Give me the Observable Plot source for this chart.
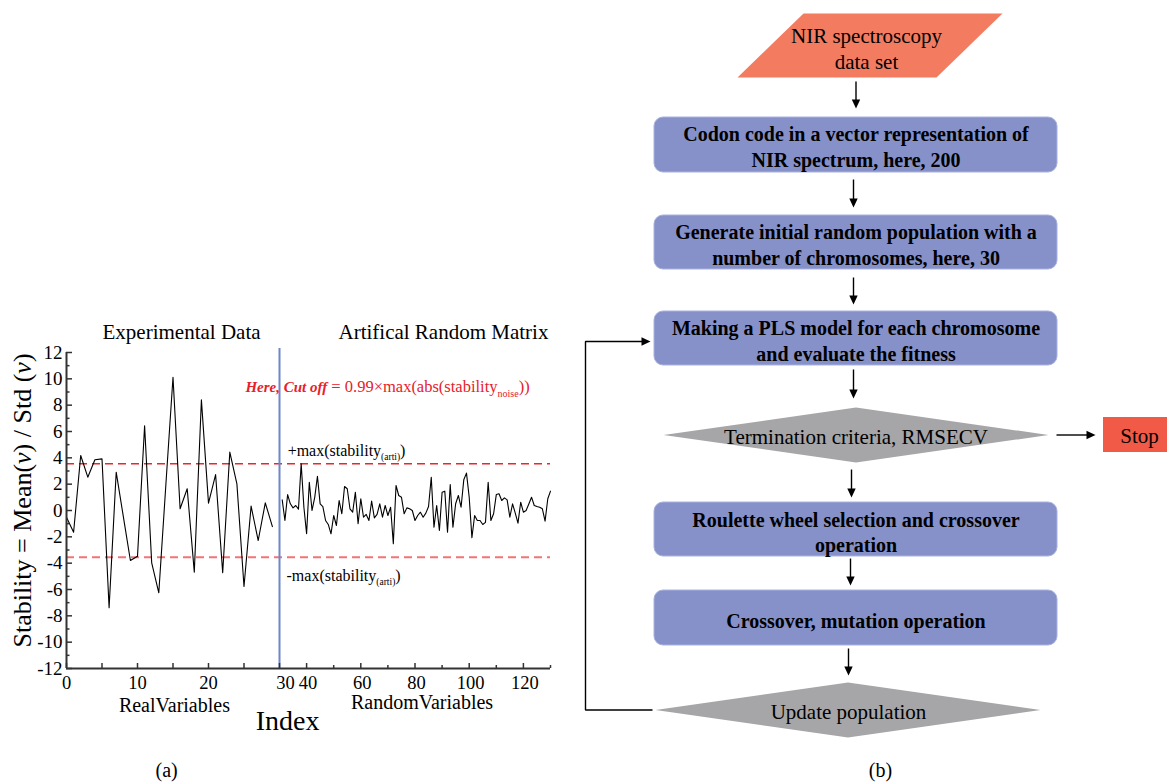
<!DOCTYPE html>
<html><head><meta charset="utf-8">
<script src="https://cdn.jsdelivr.net/npm/d3@7"></script>
<script src="https://cdn.jsdelivr.net/npm/@observablehq/plot@0.6"></script>
<style>
html,body{margin:0;padding:0;background:#fff;}
#wrap{position:relative;width:1167px;height:782px;overflow:hidden;background:#fff;}
#left{position:absolute;left:0;top:0;}
#right{position:absolute;left:580px;top:0;}
</style></head><body>
<div id="wrap"><div id="left"></div><div id="right"></div></div>
<script>
// ---------------- DATA ----------------
// Stability of the real (experimental) variables, index 0..29
const realValues = [
  -0.51,-1.65,4.18,2.53,3.85,3.92,-7.39,2.91,-0.45,-3.8,
  -3.47,6.43,-3.97,-6.25,2.0,10.12,0.13,1.65,-4.68,8.4,
  0.56,2.73,-4.73,4.43,2.02,-5.77,0.33,-2.28,0.58,-1.22
];
const realStart = 0;
// Stability of the artificial random variables, index 31..130
const randomValues = [
  0.81,-0.76,1.21,0.51,0.2,0.38,0.1,3.54,0.25,-1.77,
  2.15,0.0,1.0,2.6,0.5,0.3,-0.76,-1.06,-1.77,-0.38,
  -1.14,0.76,-0.25,1.82,1.65,0.13,-0.13,1.39,-1.01,0.89,
  -0.51,-0.3,-0.76,0.71,-0.56,-0.3,0.51,-0.51,0.38,-0.38,
  0.25,-2.53,1.9,1.14,1.01,-0.25,0.2,0.13,0.0,-0.76,
  -0.38,-0.13,-0.51,-0.2,0.3,2.53,-1.27,0.38,-1.52,1.39,
  1.47,-1.65,1.97,-1.27,0.51,1.14,0.25,2.33,2.84,1.01,
  -2.07,-0.38,-0.76,-0.76,-1.06,-0.9,2.15,-0.76,-0.25,1.21,
  1.27,0.76,0.96,0.81,-0.51,0.51,-0.2,-0.96,0.63,-0.13,
  0.0,0.5,1.01,0.38,0.3,0.25,0.13,-0.81,0.89,1.47
];
const randomStart = 31;
const cutOff = 3.55;                 // ±max(stability(arti))
const xBreak = 30, xEnd = 130;       // broken index axis: 0–30 real, 30–130 random
const xLabelsReal = [0, 10, 20];
const xLabelBreak = [30];
const xLabelsRandom = [40, 60, 80, 100, 120];
const xTicksReal = [0, 5, 10, 15, 20, 25, 30];
const xTicksRandomMajor = [40, 60, 80, 100, 120];
const xTicksRandomMinor = [50, 70, 90, 110, 130];
const yMajor = [-12,-10,-8,-6,-4,-2,0,2,4,6,8,10,12];
const yMinor = [-11,-9,-7,-5,-3,-1,1,3,5,7,9,11];
const panelTitles = ["Experimental Data", "Artifical Random Matrix"];
const groupLabels = ["RealVariables", "RandomVariables"];
const yTitle = "Stability = Mean(ν) / Std (ν)";
const xTitle = "Index";
const formula = "Here, Cut off = 0.99×max(abs(stability noise))";
const upperLabel = "+max(stability (arti))";
const lowerLabel = "-max(stability (arti))";

// Flowchart
const flowLabels = [
  "NIR spectroscopy\ndata set",
  "Codon code in a vector representation of\nNIR spectrum, here, 200",
  "Generate initial random population with a\nnumber of chromosomes, here, 30",
  "Making a PLS model for each chromosome\nand evaluate the fitness",
  "Termination criteria, RMSECV",
  "Roulette wheel selection and crossover\noperation",
  "Crossover, mutation operation",
  "Update population"
];
const flowKinds = ["data","process","process","process","decision","process","process","decision"];
const stopLabel = "Stop";

// ---------------- LEFT CHART ----------------
const FONT = "'Liberation Serif','Times New Roman',Times,serif";
const real = realValues.map((v, k) => ({i: realStart + k, v}));
const rand = randomValues.map((v, k) => ({i: randomStart + k, v}));
const AX = "#333";
// compress the random segment of the index axis (2.71 px/unit vs 7.1 px/unit)
const squeeze = 2.71 / 7.1;
const brk = d => d <= xBreak ? d : xBreak + (d - xBreak) * squeeze;
const unbrk = d => d <= xBreak ? d : xBreak + (d - xBreak) / squeeze;
const fmtX = d => String(Math.round(unbrk(d)));

const leftSvg = Plot.plot({
  width: 582, height: 782,
  marginLeft: 66, marginRight: 32, marginTop: 352, marginBottom: 114,
  style: {fontFamily: FONT, fontSize: "19px", background: "white", overflow: "visible", color: "black"},
  x: {transform: brk, domain: [0, brk(xEnd)]},
  y: {domain: [-12, 12]},
  marks: [
    Plot.ruleY([cutOff], {stroke: "#e8262c", strokeWidth: 1.3, strokeDasharray: "8,5"}),
    Plot.ruleY([-cutOff], {stroke: "#f27474", strokeWidth: 2, strokeDasharray: "8,5"}),
    Plot.line(real, {x: "i", y: "v", stroke: "black", strokeWidth: 1.1}),
    Plot.line(rand, {x: "i", y: "v", stroke: "black", strokeWidth: 1.1}),
    Plot.ruleX([xBreak], {y1: -12, y2: 12.3, stroke: "#6f86c8", strokeWidth: 2}),
    Plot.ruleX([0], {y1: -12, y2: 12, stroke: AX, strokeWidth: 2}),
    Plot.ruleY([-12], {stroke: AX, strokeWidth: 2}),
    // inward ticks
    Plot.axisY({ticks: yMajor, tickSize: 6, dx: 6, fill: "none", stroke: AX, strokeWidth: 1.5, label: null}),
    Plot.axisY({ticks: yMinor, tickSize: 3.5, dx: 3.5, fill: "none", stroke: AX, strokeWidth: 1.5, label: null}),
    Plot.axisX({ticks: xTicksReal.map(brk), tickSize: 5, dy: -5, fill: "none", stroke: AX, strokeWidth: 1.5, label: null}),
    Plot.axisX({ticks: xTicksRandomMajor.map(brk), tickSize: 5, dy: -5, fill: "none", stroke: AX, strokeWidth: 1.5, label: null}),
    Plot.axisX({ticks: xTicksRandomMinor.map(brk), tickSize: 3, dy: -3, fill: "none", stroke: AX, strokeWidth: 1.5, label: null}),
    // tick labels
    Plot.axisY({ticks: yMajor, tickSize: 0, tickPadding: 4, tickFormat: d => String(d), label: null}),
    Plot.axisX({ticks: xLabelsReal.map(brk), tickSize: 0, tickPadding: 7, fontSize: 18.5, tickFormat: fmtX, label: null}),
    Plot.axisX({ticks: xLabelBreak.map(brk), tickSize: 0, tickPadding: 7, dx: 6, fontSize: 18.5, tickFormat: fmtX, label: null}),
    Plot.axisX({ticks: xLabelsRandom.map(brk), tickSize: 0, tickPadding: 7, dx: 1.5, fontSize: 18.5, tickFormat: fmtX, label: null}),
    // titles and annotations
    Plot.text([panelTitles[0]], {x: 16.2, y: 13.5, fontSize: 21}),
    Plot.text([panelTitles[1]], {x: 90.5, y: 13.5, fontSize: 21}),
    Plot.text([groupLabels[0]], {x: 15.2, y: -14.8, fontSize: 20}),
    Plot.text([groupLabels[1]], {x: 82.6, y: -14.6, fontSize: 20}),
    Plot.text([xTitle], {x: 33, y: -16.0, fontSize: 28}),
    Plot.text([yTitle], {x: -6.2, y: 0.76, rotate: -90, fontSize: 26}),
    Plot.text([formula], {x: 25.2, y: 9.42, textAnchor: "start", fill: "#e8202a", fontSize: 16.5}),
    Plot.text([upperLabel], {x: 33, y: 4.56, textAnchor: "start", fontSize: 16}),
    Plot.text([lowerLabel], {x: 32.6, y: -4.94, textAnchor: "start", fontSize: 16}),
    Plot.text(["(a)"], {x: 14.1, y: -19.74, fontSize: 20})
  ]
});

function enrich(svg, key, parts) {
  svg.querySelectorAll("text").forEach(t => {
    if (t.textContent !== key) return;
    while (t.firstChild) t.removeChild(t.firstChild);
    for (const p of parts) {
      const s = document.createElementNS("http://www.w3.org/2000/svg", "tspan");
      s.textContent = p.t;
      for (const [k, v] of Object.entries(p.a || {})) s.setAttribute(k, v);
      t.appendChild(s);
    }
  });
}
enrich(leftSvg, yTitle, [
  {t: "Stability = Mean("}, {t: "ν", a: {"font-style": "italic"}},
  {t: ") / Std ("}, {t: "ν", a: {"font-style": "italic"}}, {t: ")"}
]);
enrich(leftSvg, formula, [
  {t: "Here, Cut off", a: {"font-weight": "bold", "font-style": "italic", "font-size": "15px"}},
  {t: " = 0.99×max(abs(stability"},
  {t: "noise", a: {"font-size": "10px", dy: "5"}},
  {t: "))", a: {dy: "-5"}}
]);
for (const [key, sign] of [[upperLabel, "+"], [lowerLabel, "-"]]) {
  enrich(leftSvg, key, [
    {t: sign + "max(stability"},
    {t: "(arti)", a: {"font-size": "9.5px", dy: "4"}},
    {t: ")", a: {dy: "-4"}}
  ]);
}
document.getElementById("left").appendChild(leftSvg);

// ---------------- FLOWCHART ----------------
// layout (pixel geometry of each node)
const geom = [
  {x1: 737, x2: 1002, y1: 13, y2: 77, tx: 866, ty: 47, skew: 66},
  {x1: 654, x2: 1057, y1: 117, y2: 172, tx: 855.5, ty: 145.5},
  {x1: 654, x2: 1057, y1: 215, y2: 269, tx: 855.5, ty: 243.5},
  {x1: 654, x2: 1057, y1: 311, y2: 365, tx: 855.5, ty: 339.5},
  {x1: 663, x2: 1048, y1: 407, y2: 462, tx: 855.5, ty: 435.5},
  {x1: 654, x2: 1057, y1: 502, y2: 556, tx: 855.5, ty: 531},
  {x1: 654, x2: 1057, y1: 590, y2: 645, tx: 855.5, ty: 619.5},
  {x1: 655, x2: 1040, y1: 682, y2: 737, tx: 848, ty: 710.5}
];
const stopGeom = {x1: 1103, x2: 1180, y1: 417, y2: 452, tx: 1139, ty: 436};
const nodes = flowLabels.map((label, k) => ({label, kind: flowKinds[k], ...geom[k]}));

const boxes = nodes.filter(d => d.kind === "process");
const polys = [];
nodes.forEach((d, k) => {
  if (d.kind === "decision") {
    const cx = (d.x1 + d.x2) / 2, cy = (d.y1 + d.y2) / 2;
    [[d.x1, cy], [cx, d.y1], [d.x2, cy], [cx, d.y2]].forEach(([x, y]) => polys.push({id: k, kind: "decision", x, y}));
  } else if (d.kind === "data") {
    [[d.x1 + d.skew, d.y1], [d.x2, d.y1], [d.x2 - d.skew, d.y2], [d.x1, d.y2]].forEach(([x, y]) => polys.push({id: k, kind: "data", x, y}));
  }
});

// connectors: [points...], arrow tip at last point
const connectors = [
  [[855.5, 81], [855.5, 108]],
  [[853, 179], [853, 207]],
  [[853, 277], [853, 304]],
  [[853, 369], [853, 398]],
  [[851, 469], [851, 497]],
  [[850, 558], [850, 585]],
  [[848, 648], [848, 675]],
  [[1056, 434.5], [1095, 434.5]],
  [[652, 709.5], [585, 709.5], [585, 341], [650, 341]]
];
const shafts = [], heads = [];
const HL = 9, HW = 4.2;
connectors.forEach((pts, id) => {
  const n = pts.length;
  const [tx, ty] = pts[n - 1], [px, py] = pts[n - 2];
  const L = Math.hypot(tx - px, ty - py), ux = (tx - px) / L, uy = (ty - py) / L;
  pts.forEach((p, j) => {
    if (j < n - 1) shafts.push({id, x: p[0], y: p[1]});
    else shafts.push({id, x: tx - ux * (HL - 1), y: ty - uy * (HL - 1)});
  });
  const bx = tx - ux * HL, by = ty - uy * HL;
  heads.push({id, x: tx, y: ty});
  heads.push({id, x: bx - uy * HW, y: by + ux * HW});
  heads.push({id, x: bx + uy * HW, y: by - ux * HW});
});

const flowSvg = Plot.plot({
  width: 587, height: 782, margin: 0,
  style: {fontFamily: FONT, fontSize: "20px", background: "white", overflow: "visible", color: "black"},
  x: {domain: [580, 1167], range: [0, 587], axis: null},
  y: {domain: [0, 782], range: [0, 782], axis: null},
  marks: [
    Plot.line(polys.filter(d => d.kind === "data"), {x: "x", y: "y", z: "id", fill: "#f27b60", stroke: "none"}),
    Plot.line(polys.filter(d => d.kind === "decision"), {x: "x", y: "y", z: "id", fill: "#a6a6a8", stroke: "none"}),
    Plot.rect(boxes, {x1: "x1", x2: "x2", y1: "y1", y2: "y2", rx: 9, fill: "#8691c9", stroke: "#aab1de", strokeWidth: 1}),
    Plot.rect([stopGeom], {x1: "x1", x2: "x2", y1: "y1", y2: "y2", fill: "#f05a46"}),
    Plot.line(shafts, {x: "x", y: "y", z: "id", stroke: "black", strokeWidth: 1.4, strokeLinecap: "butt", strokeLinejoin: "miter"}),
    Plot.line(heads, {x: "x", y: "y", z: "id", fill: "black", stroke: "none"}),
    Plot.text(nodes.filter(d => d.kind === "process"), {x: "tx", y: "ty", text: "label", fontWeight: "bold", fontSize: 20, lineHeight: 1.28}),
    Plot.text(nodes.filter(d => d.kind !== "process"), {x: "tx", y: "ty", text: "label", fontSize: 21, lineHeight: 1.24}),
    Plot.text([stopGeom], {x: "tx", y: "ty", text: () => stopLabel, fontSize: 21}),
    Plot.text(["(b)"], {x: 880, y: 770, fontSize: 20})
  ]
});
document.getElementById("right").appendChild(flowSvg);
</script>
</body></html>
